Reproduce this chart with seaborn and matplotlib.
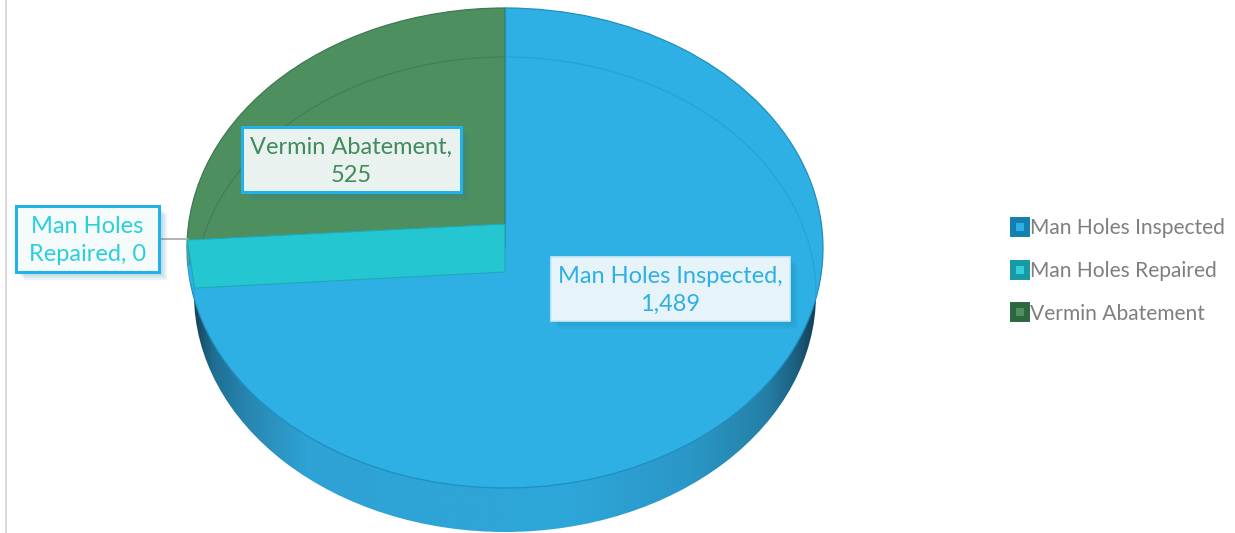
import numpy as np
import seaborn as sns
import matplotlib.pyplot as plt
import matplotlib.patheffects as pe
from matplotlib.colors import LinearSegmentedColormap
from matplotlib.lines import Line2D
from matplotlib.patches import Ellipse, Polygon, Rectangle

categories = ['Man Holes Inspected', 'Man Holes Repaired', 'Vermin Abatement']
values = [1489, 0, 525]
value_labels = ['1,489', '0', '525']
colors = ['#2eb0e4', '#24c6d2', '#4e8f60']
edge_colors = ['#1f8fc0', '#1fa9b8', '#3c7a50']
label_colors = ['#2eb0e4', '#2bcfdc', '#428a5c']
legend_edges = ['#1480b0', '#189aa6', '#2e6640']
legend_fills = ['#2eb0e4', '#33d0dc', '#4e8f60']

W, H = 1235, 533
CX, CY, RX, RY = 505, 248, 318, 240
# lower rim of the disc, the bevel ring on the top face follows the same ellipse
RIM_CY, RIM_RX, RIM_RY = 294.5, 311, 237.5

sns.set_theme(style='white')
plt.rcParams['font.family'] = ['Lato', 'DejaVu Sans']


def x_(px):
    return (px - CX) / RX


def y_(py):
    return (CY - py) / RY


fig = plt.figure(figsize=(W / 100, H / 100), dpi=100)
ax = fig.add_axes([0, 0, 1, 1])

rim_xy = (0, y_(RIM_CY))
rim_w, rim_h = 2 * RIM_RX / RX, 2 * RIM_RY / RY

# side wall, a gradient clipped to the rim ellipse and covered by the top face
stops = [(0.0, '#17435a'), (0.03, '#1f6f94'), (0.09, '#2888b2'), (0.18, '#2ea2d4'),
         (0.6, '#2ea6da'), (0.8, '#2a97c6'), (0.92, '#2580a8'), (0.97, '#1c5f80'),
         (1.0, '#123f55')]
cmap = LinearSegmentedColormap.from_list('wall', stops)
grad = np.linspace(0, 1, 512).reshape(1, -1)
im = ax.imshow(grad, cmap=cmap, extent=(-RIM_RX / RX, RIM_RX / RX, y_(H), y_(200)),
               aspect='auto', zorder=1)
clip = Ellipse(rim_xy, rim_w, rim_h, facecolor='none', edgecolor='none')
ax.add_patch(clip)
im.set_clip_path(clip)

wedges, _ = ax.pie(values, colors=colors, startangle=90, counterclock=False,
                   radius=1, wedgeprops={'linewidth': 0.9})
for w, e in zip(wedges, edge_colors):
    w.set_edgecolor(e)
    w.set_zorder(2)

# bevel ring on the top face
for i, ring_color in [(0, '#25a3d8'), (2, '#437f56')]:
    ring = Ellipse(rim_xy, rim_w, rim_h, facecolor='none', edgecolor=ring_color, lw=0.9, zorder=2.5)
    ax.add_patch(ring)
    ring.set_clip_path(wedges[i])

# the zero slice still shows as a band along its radius
angle = np.deg2rad(wedges[1].theta1)
half = 24 / RY
s_top, s_bot = np.sin(angle) + half, np.sin(angle) - half
t_top = np.pi - np.arcsin(s_top)
t_bot = np.pi - np.arcsin(s_bot)
arc = np.linspace(t_top, t_bot, 30)
ax.add_patch(Polygon(np.column_stack([np.cos(arc), np.sin(arc)]), closed=True,
                     facecolor=colors[0], edgecolor='none', zorder=2.7))
strip = [(0, half), (np.cos(t_top), s_top), (np.cos(angle) + 0.022, s_bot), (0, -half)]
ax.add_patch(Polygon(strip, closed=True, facecolor=colors[1], edgecolor=edge_colors[1],
                     linewidth=0.8, zorder=3))
ax.plot([0, 0], [half, 1], color='#2a8fb8', lw=0.9, zorder=3)

# left rule of the plot area
ax.plot([x_(6), x_(6)], [y_(0), y_(H)], color='#d9d9d9', lw=1.5, zorder=1)
# leader line for the zero slice
ax.plot([x_(159), x_(188)], [y_(239), y_(239)], color='#a6a6a6', lw=1.2, zorder=4)


def label(i, left, top, right, bottom, fill, edge, text):
    shadow = [pe.SimplePatchShadow(offset=(d, -d), shadow_rgbFace='#1f7fa8', alpha=0.09)
              for d in (6, 4.5, 3, 1.5)] + [pe.Normal()]
    box = Rectangle((x_(left), y_(bottom)), x_(right) - x_(left), y_(top) - y_(bottom),
                    facecolor=fill, edgecolor=edge[0], linewidth=edge[1], zorder=5,
                    path_effects=shadow)
    ax.add_patch(box)
    ax.text(x_((left + right) / 2), y_((top + bottom) / 2 + 1.5), text, color=label_colors[i],
            fontsize=17, ha='center', va='center', linespacing=1.42, zorder=6)


label(0, 551, 257, 790, 321, '#e6f4fa', ('#cfeaf7', 1.2),
      f'{categories[0]},\n{value_labels[0]}')
label(1, 16, 206, 159, 272, '#f5fafb', ('#22b2e8', 2.2),
      f'Man Holes\nRepaired, {value_labels[1]}')
label(2, 242, 127, 461, 192, '#eaf2f0', ('#22b2e8', 2.2),
      f'{categories[2]},\n{value_labels[2]}')

handles = [Line2D([], [], linestyle='none', marker='s', markersize=10.1,
                  markerfacecolor=f, markeredgecolor=e, markeredgewidth=4.3)
           for f, e in zip(legend_fills, legend_edges)]
ax.legend(handles, categories, loc='center left', frameon=False,
          bbox_to_anchor=(1009.5 / W, 1 - 271 / H), fontsize=15.1, labelcolor='#7f7f7f',
          handlelength=1, handletextpad=0, labelspacing=1.08, borderpad=0, borderaxespad=0)

ax.set_aspect('auto')
ax.set_xlim(x_(0), x_(W))
ax.set_ylim(y_(H), y_(0))
ax.axis('off')

fig.savefig('out.png', dpi=100, facecolor='white')
